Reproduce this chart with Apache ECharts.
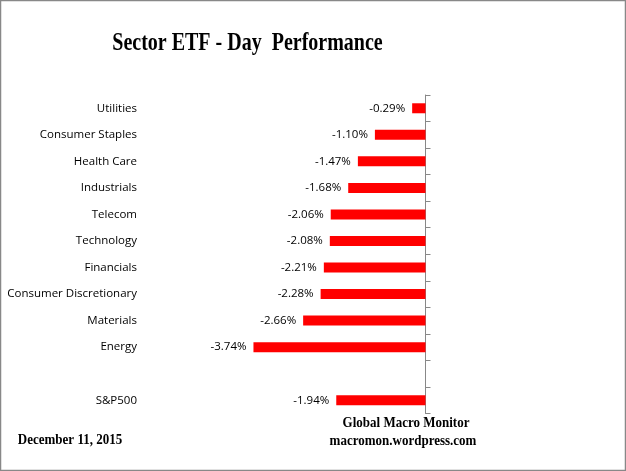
<!DOCTYPE html>
<html><head><meta charset="utf-8">
<script src="https://cdn.jsdelivr.net/npm/echarts@6/dist/echarts.min.js"></script>
<style>html,body{margin:0;padding:0;background:#fff}#c{width:626px;height:471px}</style>
</head><body><div id="c"></div>
<script>
const categories = ["Utilities","Consumer Staples","Health Care","Industrials","Telecom","Technology","Financials","Consumer Discretionary","Materials","Energy","","S&P500"];
const values = [-0.29,-1.10,-1.47,-1.68,-2.06,-2.08,-2.21,-2.28,-2.66,-3.74,null,-1.94];
const titleText = "Sector ETF - Day  Performance";
const dateText = "December 11, 2015";
const sourceLines = ["Global Macro Monitor","macromon.wordpress.com"];

const chart = echarts.init(document.getElementById('c'));
const labelFont = "'Open Sans', sans-serif";
const serif = "'Liberation Serif', serif";
chart.setOption({
  animation:false,
  grid:{left:241.5,right:200.5,top:95,bottom:57.5},
  xAxis:{type:'value',min:-4,max:0,show:false},
  yAxis:[
    {type:'category',data:categories,inverse:true,position:'right',
     axisLine:{show:true,lineStyle:{color:'#888',width:1}},
     axisTick:{show:true,length:5,lineStyle:{color:'#888'}},
     axisLabel:{show:false},splitLine:{show:false}},
    {type:'category',data:categories,inverse:true,position:'left',
     axisLine:{show:false},axisTick:{show:false},
     axisLabel:{margin:104.5,color:'#000',fontSize:11.5,fontFamily:labelFont}}
  ],
  series:[{type:'bar',data:values,barWidth:10,itemStyle:{color:'#ff0000'},
    label:{show:true,position:'left',distance:7,color:'#000',fontSize:11.5,fontFamily:labelFont,
      formatter:p=>p.value==null?'':p.value.toFixed(2)+'%'}}],
  graphic:[
    {type:'rect',shape:{x:0.5,y:0.5,width:625,height:470},style:{fill:null,stroke:'#888',lineWidth:1.5},silent:true},
    {type:'text',x:247.5,y:44,scaleY:1.25,style:{text:titleText,font:"bold 20px "+serif,fill:'#000',textAlign:'center',textVerticalAlign:'middle'}},
    {type:'text',x:70,y:440,scaleY:1.2,style:{text:dateText,font:"bold 13px "+serif,fill:'#000',textAlign:'center',textVerticalAlign:'middle'}},
    {type:'text',x:406,y:423,scaleY:1.2,style:{text:sourceLines[0],font:"bold 13px "+serif,fill:'#000',textAlign:'center',textVerticalAlign:'middle'}},
    {type:'text',x:403,y:441,scaleY:1.2,style:{text:sourceLines[1],font:"bold 13px "+serif,fill:'#000',textAlign:'center',textVerticalAlign:'middle'}}
  ]
});
</script></body></html>
